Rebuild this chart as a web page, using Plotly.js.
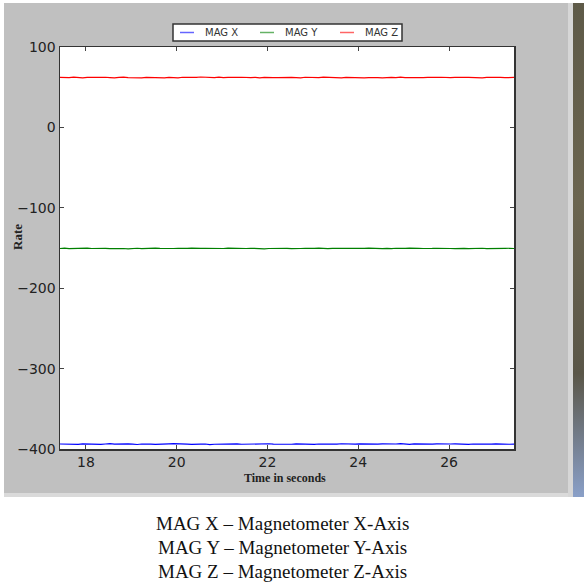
<!DOCTYPE html>
<html>
<head>
<meta charset="utf-8">
<script src="https://cdn.plot.ly/plotly-3.0.1.min.js"></script>
<style>
  html, body { margin: 0; padding: 0; background: #ffffff; }
  #wrap { position: relative; width: 584px; height: 583px; overflow: hidden; }
  #panel { position: absolute; left: 4px; top: 3px; width: 564px; height: 490px; background: #c0c0c0; }
  #panelBottom { position: absolute; left: 4px; top: 493px; width: 569px; height: 4px; background: #dadada; }
  #panelRight { position: absolute; left: 568px; top: 3px; width: 5px; height: 494px; background: #d6d6d6; }
  #strip { position: absolute; left: 573px; top: 3px; width: 11px; height: 494px;
           background: linear-gradient(#5e5a48, #6b6550 40%, #5a5648 75%, #8aa0c8); }
  #chart { position: absolute; left: 0; top: 0; width: 584px; height: 583px; }
</style>
</head>
<body>
<div id="wrap">
  <div id="panel"></div>
  <div id="panelBottom"></div>
  <div id="panelRight"></div>
  <div id="strip"></div>
  <div id="chart"></div>
</div>
<script>
// ---- data ----
var seriesNames = ["MAG X", "MAG Y", "MAG Z"];
var timeStart = 17.43;   // seconds, first sample
var timeStep = 0.1;      // seconds between samples

var magX = [-393.8,-394.1,-393.6,-393.9,-394.3,-393.7,-394.0,-393.5,-393.9,-394.2,
            -393.8,-393.4,-394.0,-393.7,-394.1,-393.6,-393.9,-394.4,-393.8,-393.5,
            -393.9,-394.2,-393.7,-394.0,-393.6,-393.3,-393.8,-394.1,-393.9,-394.3,
            -393.7,-394.0,-393.8,-394.5,-394.1,-393.9,-394.2,-393.8,-394.0,-393.6,
            -394.1,-393.9,-394.3,-393.7,-394.0,-393.8,-393.5,-394.0,-394.2,-393.8,
            -393.9,-394.1,-393.7,-394.0,-393.6,-393.9,-394.2,-393.8,-394.0,-393.7,
            -394.1,-393.9,-393.5,-393.8,-394.2,-394.0,-393.7,-393.9,-394.3,-393.8,
            -394.0,-393.6,-393.9,-394.1,-393.8,-393.4,-393.9,-394.2,-393.7,-394.0,
            -393.8,-394.4,-394.0,-393.7,-393.9,-394.1,-393.8,-393.6,-394.0,-393.9,
            -394.2,-393.8,-394.0,-393.7,-394.1,-393.9,-393.6,-394.0,-393.8,-394.1,-393.9];

var magY = [-150.6,-150.2,-150.8,-150.4,-150.9,-150.5,-150.1,-150.6,-150.3,-150.7,
            -150.4,-150.9,-150.5,-150.2,-150.6,-151.0,-150.5,-150.3,-150.7,-150.4,
            -150.6,-150.1,-150.5,-150.8,-150.3,-150.6,-150.4,-150.9,-150.5,-150.2,
            -150.7,-150.5,-150.3,-150.6,-150.9,-150.4,-150.6,-150.2,-150.5,-150.8,
            -150.4,-150.6,-150.3,-150.7,-150.5,-151.0,-150.6,-150.4,-150.2,-150.6,
            -150.5,-150.8,-150.3,-150.6,-150.4,-150.7,-150.5,-150.2,-150.6,-150.9,
            -150.4,-150.5,-150.7,-150.3,-150.6,-150.4,-150.8,-150.5,-150.1,-150.6,
            -150.4,-150.7,-150.5,-150.9,-150.3,-150.6,-150.5,-150.2,-150.7,-150.4,
            -150.6,-150.9,-150.5,-150.3,-150.7,-150.4,-150.6,-150.8,-150.2,-150.5,
            -150.7,-150.4,-150.6,-150.3,-150.8,-150.5,-150.4,-150.7,-150.5,-150.3,-150.6];

var magZ = [62.2,61.8,62.0,62.5,61.9,61.6,62.1,62.3,61.7,62.0,
            62.4,61.9,61.5,62.2,62.6,62.0,61.8,62.1,61.6,62.3,
            62.0,62.5,61.9,61.7,62.2,62.0,61.6,62.4,62.1,61.8,
            62.3,62.7,62.2,61.9,62.0,62.5,61.8,62.1,61.7,62.2,
            62.4,61.9,62.0,62.3,61.6,62.1,62.5,62.0,61.8,62.2,
            61.9,62.3,62.0,61.7,62.4,62.1,61.8,62.0,62.6,62.2,
            61.9,62.1,61.6,62.3,62.0,62.4,61.8,61.5,61.9,62.2,
            62.0,61.7,62.3,62.1,61.9,62.5,62.0,61.8,62.2,61.6,
            62.0,62.3,61.9,62.1,62.4,61.8,62.0,62.2,61.7,62.1,
            62.3,61.9,62.0,61.6,62.2,62.4,61.9,62.1,61.8,62.0,62.1];

var xTicks = [18, 20, 22, 24, 26];
var yTicks = [100, 0, -100, -200, -300, -400];
var xTitle = "Time in seconds";
var yTitle = "Rate";
var captionLines = ["MAG X \u2013 Magnetometer X-Axis",
                    "MAG Y \u2013 Magnetometer Y-Axis",
                    "MAG Z \u2013 Magnetometer Z-Axis"];

// ---- build ----
function times(n) {
  var t = [];
  for (var i = 0; i < n; i++) t.push(Math.round((timeStart + i * timeStep) * 1000) / 1000);
  return t;
}
var colors = ["#0000ff", "#008000", "#ff0000"];
var values = [magX, magY, magZ];
var traces = values.map(function (v, i) {
  return {
    x: times(v.length), y: v, type: "scatter", mode: "lines",
    name: seriesNames[i], line: { color: colors[i], width: 1.2 },
    showlegend: false, hoverinfo: "x+y"
  };
});

var L = 60, R = 514, T = 47, B = 449;
var W = 584, H = 583;
function px(xp) { return (xp - L) / (R - L); }
function py(yp) { return (B - yp) / (B - T); }

var annotations = captionLines.map(function (s, i) {
  return {
    text: s, xref: "paper", yref: "paper", x: px(282), y: py(523 + i * 24.3),
    xanchor: "center", yanchor: "middle", showarrow: false,
    font: { family: "Liberation Serif, Times New Roman, serif", size: 19, color: "#111111" }
  };
});

// axis titles
annotations.push({
  text: "<b>" + xTitle + "</b>", xref: "paper", yref: "paper", x: px(285), y: py(478),
  xanchor: "center", yanchor: "middle", showarrow: false,
  font: { family: "Liberation Serif, serif", size: 12, color: "#222222" }
});
annotations.push({
  text: "<b>" + yTitle + "</b>", xref: "paper", yref: "paper", x: px(18), y: py(237),
  xanchor: "center", yanchor: "middle", showarrow: false, textangle: -90,
  font: { family: "Liberation Serif, serif", size: 13, color: "#222222" }
});

// legend (drawn as a box with line samples and labels)
var shapes = [{
  type: "rect", xref: "paper", yref: "paper",
  x0: px(173), x1: px(402), y0: py(41), y1: py(24),
  fillcolor: "#ffffff", line: { color: "#333333", width: 1.5 }, layer: "above"
}];
seriesNames.forEach(function (name, i) {
  var x0 = 180 + i * 80;
  shapes.push({
    type: "line", xref: "paper", yref: "paper",
    x0: px(x0), x1: px(x0 + 14), y0: py(32.5), y1: py(32.5),
    line: { color: colors[i], width: 1.5 }, opacity: 0.6, layer: "above"
  });
  annotations.push({
    text: name, xref: "paper", yref: "paper", x: px(x0 + 23), y: py(32.5),
    xanchor: "left", yanchor: "middle", showarrow: false,
    font: { family: "DejaVu Sans, sans-serif", size: 10, color: "#333333" }
  });
});

var layout = {
  width: W, height: H,
  margin: { l: L, r: W - R, t: T, b: H - B, pad: 0 },
  paper_bgcolor: "rgba(0,0,0,0)",
  plot_bgcolor: "#ffffff",
  showlegend: false,
  xaxis: {
    range: [17.43, 27.43], tickvals: xTicks, ticktext: xTicks.map(String),
    ticks: "inside", ticklen: 4, tickcolor: "#444444", tickwidth: 1,
    showline: true, linecolor: "#333333", linewidth: 1.5, mirror: "ticks",
    showgrid: false, zeroline: false,
    tickfont: { family: "DejaVu Sans, sans-serif", size: 14, color: "#222222" }
  },
  yaxis: {
    range: [-400, 100], tickvals: yTicks,
    ticks: "inside", ticklen: 4, tickcolor: "#444444", tickwidth: 1,
    showline: true, linecolor: "#333333", linewidth: 1.5, mirror: "ticks",
    showgrid: false, zeroline: false,
    tickfont: { family: "DejaVu Sans, sans-serif", size: 14, color: "#222222" }
  },
  shapes: shapes,
  annotations: annotations
};

Plotly.newPlot("chart", traces, layout, { displayModeBar: false, staticPlot: true });
</script>
</body>
</html>
